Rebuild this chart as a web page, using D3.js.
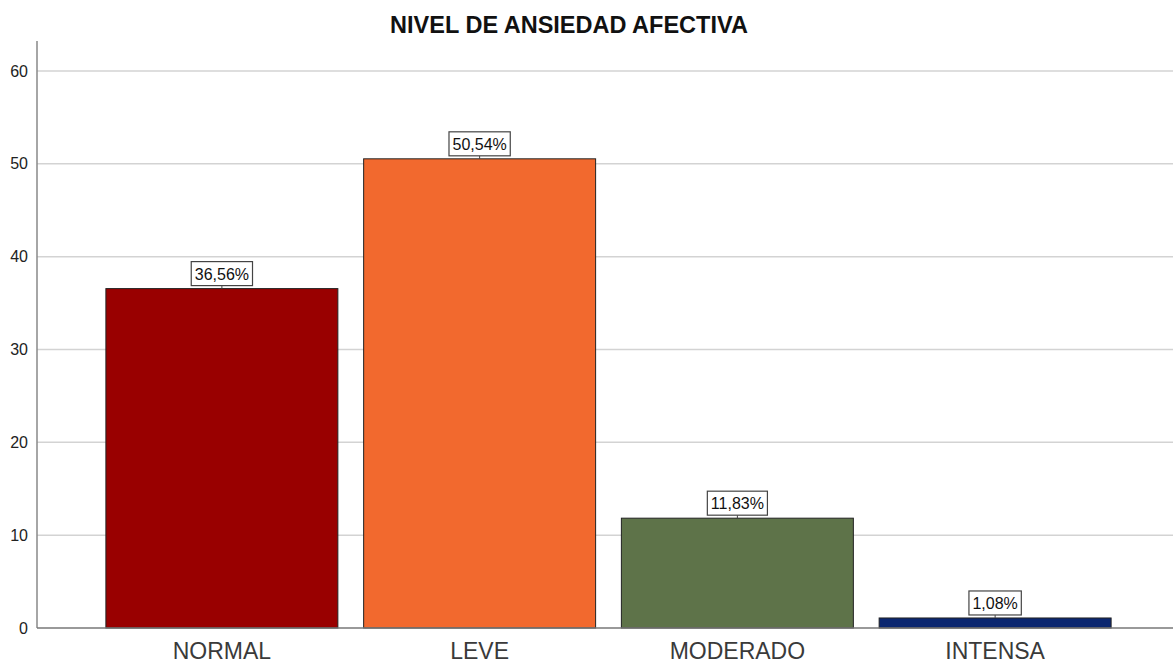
<!DOCTYPE html>
<html>
<head>
<meta charset="utf-8">
<script src="https://cdn.jsdelivr.net/npm/d3@7"></script>
<style>
  body { margin: 0; background: #fff; }
  text { font-family: "Liberation Sans", Arial, sans-serif; }
</style>
</head>
<body>
<svg id="chart"></svg>
<script>
const categories = ["NORMAL", "LEVE", "MODERADO", "INTENSA"];
const percents = [36.56, 50.54, 11.83, 1.08];
const percentLabels = ["36,56%", "50,54%", "11,83%", "1,08%"];
const yTicks = [0, 10, 20, 30, 40, 50, 60];
const barColors = ["#990000", "#f2692e", "#5e7349", "#0b2770"];

const width = 1173, height = 663;
const plot = { left: 37, right: 1173, top: 41, bottom: 628 };

const svg = d3.select("#chart")
    .attr("width", width)
    .attr("height", height);

const x = d3.scaleBand()
    .domain(categories)
    .range([93, 1124])
    .paddingInner(0.1)
    .paddingOuter(0.05);

const y = d3.scaleLinear()
    .domain([0, 60])
    .range([plot.bottom, 71]);

// gridlines
svg.append("g")
    .selectAll("line")
    .data(yTicks.filter(d => d > 0))
    .join("line")
    .attr("x1", plot.left)
    .attr("x2", plot.right)
    .attr("y1", d => y(d))
    .attr("y2", d => y(d))
    .style("stroke", "#d3d3d3")
    .style("stroke-width", 1.5);

// y axis
const yAxis = svg.append("g")
    .attr("transform", `translate(${plot.left},0)`)
    .call(d3.axisLeft(y).tickValues(yTicks).tickSize(0).tickPadding(9));
yAxis.select(".domain").remove();
yAxis.selectAll("text")
    .style("font-size", "16px")
    .style("fill", "#222");

svg.append("line")
    .attr("x1", plot.left).attr("x2", plot.left)
    .attr("y1", plot.top).attr("y2", plot.bottom)
    .style("stroke", "#888")
    .style("stroke-width", 1.5);

// bars
svg.append("g")
    .selectAll("rect")
    .data(percents)
    .join("rect")
    .attr("x", (d, i) => x(categories[i]))
    .attr("y", d => y(d))
    .attr("width", x.bandwidth())
    .attr("height", d => y(0) - y(d))
    .style("fill", (d, i) => barColors[i])
    .style("stroke", "#222")
    .style("stroke-width", 1);

// baseline
svg.append("line")
    .attr("x1", plot.left).attr("x2", plot.right)
    .attr("y1", plot.bottom).attr("y2", plot.bottom)
    .style("stroke", "#777")
    .style("stroke-width", 1.5);

// x axis labels
const xAxis = svg.append("g")
    .attr("transform", `translate(0,${plot.bottom})`)
    .call(d3.axisBottom(x).tickSize(0).tickPadding(15));
xAxis.select(".domain").remove();
xAxis.selectAll("text")
    .style("font-size", "23px")
    .style("fill", "#3a3a3a");

// value labels in boxes
const labels = svg.append("g")
    .selectAll("g")
    .data(percents)
    .join("g")
    .attr("transform", (d, i) => `translate(${x(categories[i]) + x.bandwidth() / 2},${y(d)})`);

labels.append("line")
    .attr("x1", 0).attr("x2", 0)
    .attr("y1", -3).attr("y2", 0)
    .style("stroke", "#444");

labels.each(function (d, i) {
    const g = d3.select(this);
    const t = g.append("text")
        .attr("text-anchor", "middle")
        .attr("y", -9)
        .style("font-size", "16px")
        .style("fill", "#111")
        .text(percentLabels[i]);
    const w = t.node().getComputedTextLength() + 7;
    g.insert("rect", "text")
        .attr("x", -w / 2)
        .attr("y", -27)
        .attr("width", w)
        .attr("height", 24)
        .style("fill", "#fff")
        .style("stroke", "#444")
        .style("stroke-width", 1.2);
});

// title
svg.append("text")
    .attr("x", 569)
    .attr("y", 33)
    .attr("text-anchor", "middle")
    .style("font-size", "23.5px")
    .style("font-weight", "bold")
    .style("fill", "#111")
    .text("NIVEL DE ANSIEDAD AFECTIVA");
</script>
</body>
</html>
